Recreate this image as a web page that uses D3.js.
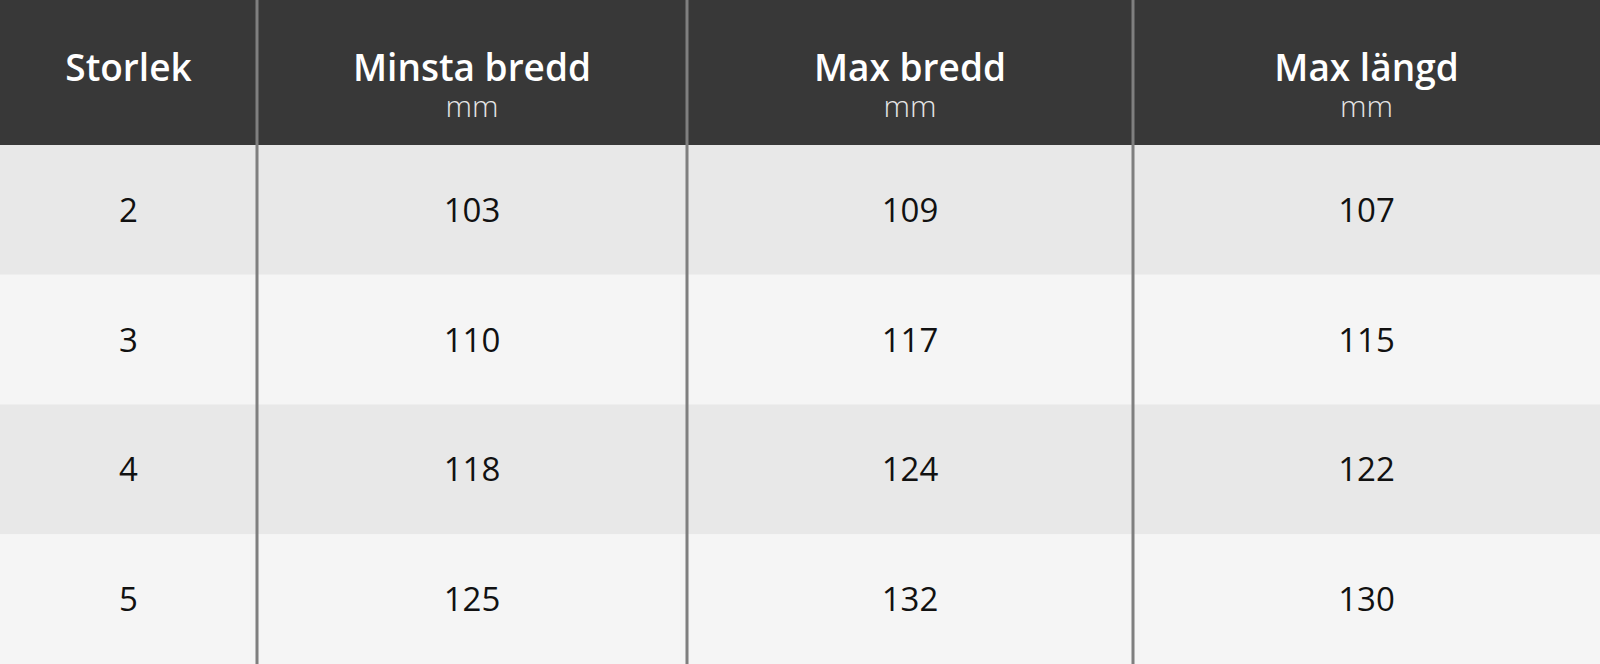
<!DOCTYPE html>
<html lang="sv">
<head>
  <meta charset="UTF-8">
  <title>Storlekstabell</title>
  <script src="https://d3js.org/d3.v7.min.js"></script>
  <style>
    html, body {
      margin: 0;
      padding: 0;
      background: #f5f5f5;
      overflow: hidden;
    }
    svg {
      display: block;
      font-family: "Open Sans", "Noto Sans", sans-serif;
    }
  </style>
</head>
<body>
  <script>
    // Tabellens data
    const headers = ["Storlek", "Minsta bredd", "Max bredd", "Max längd"];
    const units = ["", "mm", "mm", "mm"];
    const sizes = ["2", "3", "4", "5"];
    const minWidth = [103, 110, 118, 125];
    const maxWidth = [109, 117, 124, 132];
    const maxLength = [107, 115, 122, 130];

    const width = 1600;
    const height = 664;
    const headerH = 145;

    // Kolumnernas kanter (layout)
    const colEdges = [0, 257, 687, 1133, 1600];

    const rows = sizes.map((s, i) => [s, minWidth[i], maxWidth[i], maxLength[i]]);

    const yScale = d3.scaleBand()
      .domain(sizes)
      .range([headerH, height]);

    const xLeft = d3.scaleOrdinal().domain(headers).range(colEdges.slice(0, 4));
    const xRight = d3.scaleOrdinal().domain(headers).range(colEdges.slice(1));
    const xMid = h => (xLeft(h) + xRight(h)) / 2;

    const svg = d3.select("body")
      .append("svg")
      .attr("width", width)
      .attr("height", height);

    // Rader
    svg.selectAll(".row")
      .data(sizes)
      .join("rect")
      .attr("class", "row")
      .attr("x", 0)
      .attr("y", d => yScale(d))
      .attr("width", width)
      .attr("height", yScale.bandwidth())
      .attr("fill", (d, i) => i % 2 === 0 ? "#e8e8e8" : "#f5f5f5");

    // Rubrikfält
    svg.append("rect")
      .attr("x", 0)
      .attr("y", 0)
      .attr("width", width)
      .attr("height", headerH)
      .attr("fill", "#383838");

    svg.selectAll(".head")
      .data(headers)
      .join("text")
      .attr("class", "head")
      .attr("x", d => xMid(d))
      .attr("y", 81)
      .attr("text-anchor", "middle")
      .attr("fill", "#ffffff")
      .attr("font-size", 37)
      .attr("font-weight", 600)
      .text(d => d);

    svg.selectAll(".unit")
      .data(headers.filter((h, i) => units[i]))
      .join("text")
      .attr("class", "unit")
      .attr("x", d => xMid(d))
      .attr("y", 117)
      .attr("text-anchor", "middle")
      .attr("fill", "#e6e6e6")
      .attr("font-size", 30)
      .attr("font-weight", 300)
      .text(d => units[headers.indexOf(d)]);

    // Värden
    const cells = rows.flatMap(r => r.map((v, j) => ({ row: r[0], col: headers[j], v })));
    svg.selectAll(".cell")
      .data(cells)
      .join("text")
      .attr("class", "cell")
      .attr("x", d => xMid(d.col))
      .attr("y", d => yScale(d.row) + yScale.bandwidth() / 2 + 12)
      .attr("text-anchor", "middle")
      .attr("fill", "#111111")
      .attr("font-size", 33)
      .text(d => d.v);

    // Kolumnlinjer
    svg.selectAll(".sep")
      .data(headers.slice(1))
      .join("line")
      .attr("class", "sep")
      .attr("x1", d => xLeft(d))
      .attr("x2", d => xLeft(d))
      .attr("y1", 0)
      .attr("y2", height)
      .attr("stroke", "#7f7f7f")
      .attr("stroke-width", 3);
  </script>
</body>
</html>
